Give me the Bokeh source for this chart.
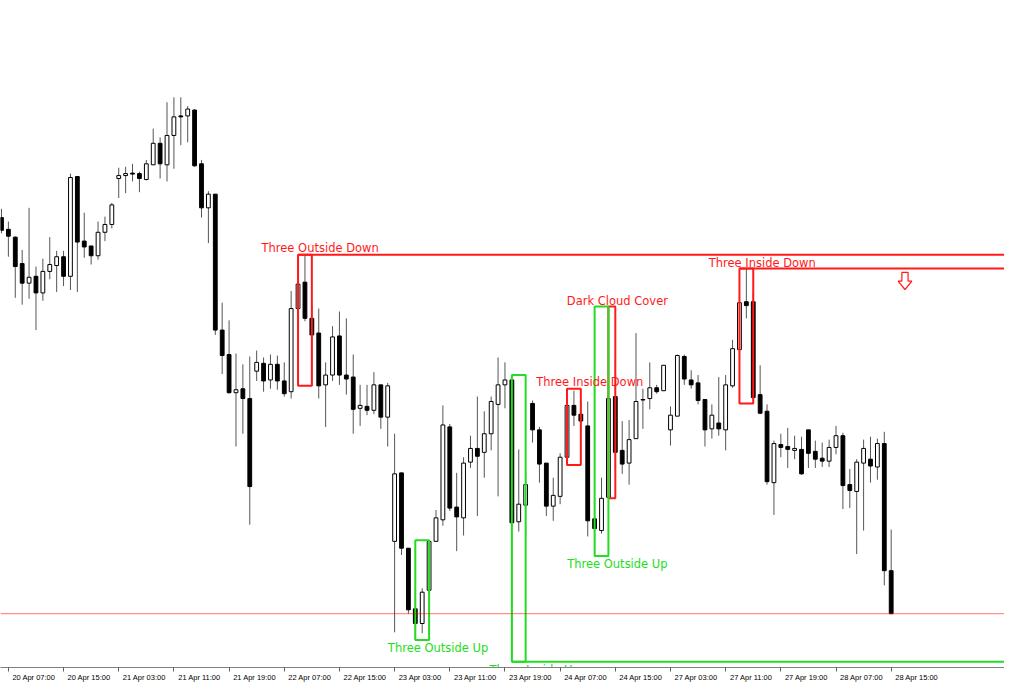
from bokeh.plotting import figure
from bokeh.models import Range1d, FixedTicker, LinearAxis, Span, ColumnDataSource
from bokeh.core.properties import value
from bokeh.embed import file_html
from bokeh.resources import INLINE

# ---------------- data (price points) ----------------
opens = [478, 466, 458, 431, 411, 418, 401, 423, 429, 438, 418, 520, 454, 449, 439, 463, 471, 518, 521, 523.5,
         523, 517, 532, 554, 532, 562, 582, 582, 588, 533, 488, 502, 363, 338, 299, 303, 293, 321, 329, 312,
         328, 311, 300, 385, 412, 375, 360, 307, 317, 357, 317, 315, 283, 285, 281, 307, 274, 147, 217, 140,
         78, 63, 97, 147, 169, 264, 182, 171, 228, 242, 238, 257, 287, 307, 312, 167, 184, 288, 261, 227,
         183, 193, 233, 286, 277, 265, 170, 158, 192, 295, 240, 227, 252, 292, 293, 304, 301, 261, 275, 336,
         312, 309, 292, 262, 268, 261, 306, 343, 392, 392, 297, 280, 207, 246, 244, 240, 241, 261, 239, 232,
         229, 243, 255, 205, 198, 227, 231, 223, 247, 117]
highs = [487, 474, 459, 445, 488, 428, 436, 458, 444, 444, 523, 520, 483, 449, 474, 479, 493, 529, 530, 533,
         525, 537, 569, 560, 596, 601, 601, 592, 589, 537, 505, 502, 391, 373, 339, 328, 336, 342, 335, 338,
         337, 330, 403, 412, 440, 388, 385, 330, 367, 382, 375, 338, 307, 307, 320, 307, 309, 257, 217, 140,
         97, 99, 148, 179, 286, 267, 217, 233, 255, 295, 280, 295, 335, 330, 317, 241, 217, 291, 264, 227,
         212, 237, 303, 301, 290, 290, 191, 212, 387, 333, 270, 271, 360, 303, 330, 307, 327, 285, 338, 338,
         322, 317, 292, 287, 315, 317, 353, 400, 426, 400, 327, 287, 250, 257, 263, 255, 254, 261, 250, 248,
         251, 265, 258, 221, 231, 251, 254, 252, 259, 159]
lows = [462, 438, 396, 389, 395, 363, 393, 415, 402, 408, 404, 402, 437, 430, 435, 454, 467, 498, 503, 515,
        504, 516, 532, 518, 515, 528, 552, 555, 530, 478, 452, 358, 318, 298, 244, 257, 164, 311, 300, 303,
        302, 295, 293, 370, 372, 306, 293, 264, 311, 307, 297, 257, 265, 276, 277, 262, 244, 54, 133, 73,
        46, 53, 95, 147, 163, 178, 137, 153, 222, 173, 212, 240, 193, 283, 24, 157, 152, 248, 207, 173,
        168, 185, 225, 265, 260, 152, 132, 155, 191, 222, 216, 205, 252, 262, 282, 298, 301, 245, 275, 307,
        303, 287, 244, 252, 255, 240, 304, 333, 375, 288, 277, 205, 174, 233, 222, 231, 215, 222, 222, 223,
        223, 236, 180, 181, 134, 158, 207, 210, 102, 73]
closes = [465, 459, 428, 411, 417, 401, 423, 430, 438, 418, 519, 453, 448, 439, 463, 471, 491, 521, 523, 522.5,
          518, 533, 554, 533, 562, 581, 581, 589, 531, 488, 502, 363, 337, 299, 302, 293, 203, 330, 311, 328,
          311, 298, 385, 410, 375, 358, 306, 317, 356, 317, 313, 282, 286, 281, 307, 274, 306, 216, 140, 77,
          63, 95, 147, 171, 266, 181, 172, 227, 242, 234, 257, 290, 307, 312, 166, 185, 205, 261, 226, 183,
          194, 233, 286, 276, 270, 168, 160, 191, 293, 238, 226, 251, 290, 291.5, 304, 300, 327, 276, 337, 313,
          307, 291, 261, 276, 262, 307, 344, 391, 388, 294, 278, 208, 247, 243, 241, 242, 216, 237, 231, 229,
          243, 255, 204, 199, 228, 242, 224, 247, 117, 73]

tick_bars = list(range(1, 130, 8))
tick_labels = ["20 Apr 07:00", "20 Apr 15:00", "21 Apr 03:00", "21 Apr 11:00", "21 Apr 19:00",
               "22 Apr 07:00", "22 Apr 15:00", "23 Apr 03:00", "23 Apr 11:00", "23 Apr 19:00",
               "24 Apr 07:00", "24 Apr 15:00", "27 Apr 03:00", "27 Apr 11:00", "27 Apr 19:00",
               "28 Apr 07:00", "28 Apr 15:00"]

pat_names = ["Three Outside Down", "Three Outside Up", "Three Inside Up", "Three Inside Down",
             "Dark Cloud Cover", "Three Outside Up", "Three Inside Down"]
pat_start = [43, 60, 74, 82, 88, 86, 107]
pat_end = [45, 62, 76, 84, 89, 88, 109]
pat_top = [440, 148, 317, 303, 387, 387, 426]
pat_bottom = [306, 46, 24, 225, 191, 132, 288]
pat_bull = [False, True, True, False, False, True, False]
pat_extend = [True, False, True, False, False, False, True]
label_bar = [46.2, 63.3, 77.3, 85.3, 89.3, 89.3, 110.3]
label_price = [447, 38, 15, 310, 393, 124, 432]

signal_bar = 131
signal_price = 422

# ---------------- figure ----------------
RED = "#ff1a1a"
GREEN = "#22dd22"

bars = list(range(len(opens)))
x_end = 145.43

p = figure(width=1004, height=684, output_backend="svg", toolbar_location=None,
           x_range=Range1d(-0.143, x_end), y_range=Range1d(18, 700),
           y_axis_location=None, min_border_left=0, min_border_right=0,
           min_border_top=0, min_border_bottom=0)
p.xgrid.visible = False
p.ygrid.visible = False
p.outline_line_color = None
p.background_fill_color = "white"
p.border_fill_color = "white"

# time axis: tick marks (minor ticks) at the bars, labels starting at each mark
label_shift = 3.7
label_pos = [b + label_shift for b in tick_bars]
ax = p.xaxis[0]
ax.ticker = FixedTicker(ticks=label_pos, minor_ticks=tick_bars)
ax.major_label_overrides = {pos: t for pos, t in zip(label_pos, tick_labels)}
ax.major_label_text_font = "Liberation Sans"
ax.major_label_text_font_size = "7.5px"
ax.major_label_text_color = "black"
ax.major_label_standoff = 1
ax.major_tick_line_color = None
ax.major_tick_in = 0
ax.major_tick_out = 4
ax.minor_tick_line_color = "#606060"
ax.minor_tick_in = 0
ax.minor_tick_out = 4
ax.axis_line_color = "#808080"

# right border
rax = LinearAxis(ticker=FixedTicker(ticks=[]), axis_line_color="black",
                 major_tick_in=0, major_tick_out=0, minor_tick_line_color=None,
                 major_label_text_font_size="0px")
p.add_layout(rax, "right")

# bid line at last close
p.add_layout(Span(location=closes[-1], dimension="width", line_color="#ff0000",
                  line_alpha=0.55, line_width=1))

# candles
bull = [c >= o for o, c in zip(opens, closes)]
src = ColumnDataSource(dict(
    x=bars, high=highs, low=lows,
    top=[max(o, c) for o, c in zip(opens, closes)],
    bottom=[min(o, c) for o, c in zip(opens, closes)],
    fill=["white" if b else "black" for b in bull],
))
p.segment(x0="x", y0="high", x1="x", y1="low", source=src, line_color="#555555", line_width=1)
p.vbar(x="x", width=0.55, top="top", bottom="bottom", fill_color="fill",
       line_color="black", line_width=1, source=src)

# pattern boxes
pcol = [GREEN if b else RED for b in pat_bull]
p.quad(left=pat_start, right=pat_end, top=pat_top, bottom=pat_bottom,
       fill_color=None, line_color=pcol, line_width=2)

ext_x0, ext_y, ext_c = [], [], []
for s, t, bt, b, e in zip(pat_start, pat_top, pat_bottom, pat_bull, pat_extend):
    if e:
        ext_x0.append(s)
        ext_y.append(bt if b else t)
        ext_c.append(GREEN if b else RED)
p.segment(x0=ext_x0, y0=ext_y, x1=[x_end + 2] * len(ext_x0), y1=ext_y,
          line_color=ext_c, line_width=2)

p.text(x=label_bar, y=label_price, text=pat_names, text_color=pcol,
       text_font=value("DejaVu Sans"), text_font_size="11.5px",
       text_align="center", text_baseline="middle")

# hollow down-arrow signal (shape built around the signal point)
sw, hw, sh, hh = 0.45, 1.0, 9.0, 8.5   # shaft half-width, head half-width (bars); shaft/head heights (price)
ax_pts = [signal_bar - sw, signal_bar + sw, signal_bar + sw, signal_bar + hw, signal_bar,
          signal_bar - hw, signal_bar - sw]
ay_pts = [signal_price, signal_price, signal_price - sh, signal_price - sh, signal_price - sh - hh,
          signal_price - sh, signal_price - sh]
p.patch(ax_pts, ay_pts, fill_color="white", line_color=RED, line_width=1.2)

open("out.html", "w").write(file_html(p, INLINE))
